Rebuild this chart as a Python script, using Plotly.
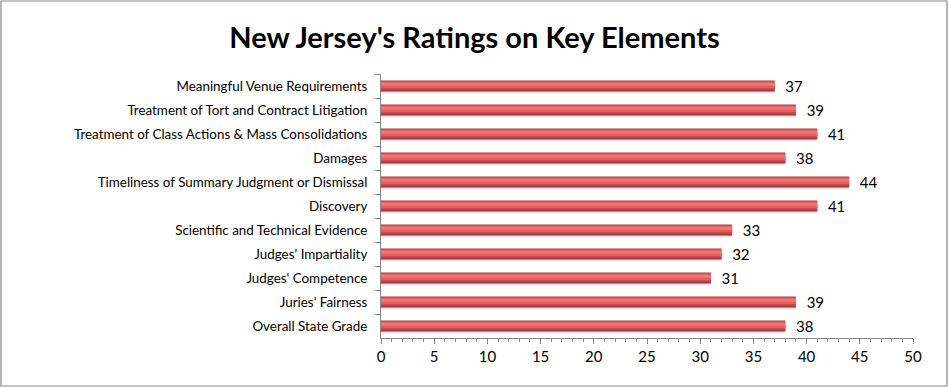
import plotly.graph_objects as go

categories = [
    "Meaningful Venue Requirements",
    "Treatment of Tort and Contract Litigation",
    "Treatment of Class Actions & Mass Consolidations",
    "Damages",
    "Timeliness of Summary Judgment or Dismissal",
    "Discovery",
    "Scientific and Technical Evidence",
    "Judges' Impartiality",
    "Judges' Competence",
    "Juries' Fairness",
    "Overall State Grade",
]
values = [37, 39, 41, 38, 44, 41, 33, 32, 31, 39, 38]
x_ticks = [0, 5, 10, 15, 20, 25, 30, 35, 40, 45, 50]

FONT = "Lato"
W, H = 949, 388
L, R, T, B = 381, 36, 74, 50
pw, ph = W - L - R, H - T - B

fig = go.Figure()
# soft shadow under the bars
fig.add_trace(go.Bar(y=categories, x=values, orientation="h", width=0.1, offset=0.2,
                     marker=dict(color="#dedede", line=dict(width=0)), hoverinfo="skip"))
# cylinder-like shading layers
fig.add_trace(go.Bar(y=categories, x=values, orientation="h", width=0.46, offset=-0.23,
                     marker=dict(color="#973a38", line=dict(width=0)),
                     text=["  " + str(v) for v in values], textposition="outside",
                     constraintext="none",
                     textfont=dict(family=FONT, size=15, color="#000"), cliponaxis=False,
                     hoverinfo="skip"))
fig.add_trace(go.Bar(y=categories, x=values, orientation="h", width=0.16, offset=0.02,
                     marker=dict(color="#b44746", line=dict(width=0)), hoverinfo="skip"))
fig.add_trace(go.Bar(y=categories, x=values, orientation="h", width=0.3, offset=-0.2,
                     marker=dict(color="#e45d5d", line=dict(width=0)), hoverinfo="skip"))
fig.add_trace(go.Bar(y=categories, x=values, orientation="h", width=0.12, offset=-0.13,
                     marker=dict(color="#f47878", line=dict(width=0)), hoverinfo="skip"))

fig.update_layout(
    width=W, height=H,
    margin=dict(l=L, r=R, t=T, b=B, autoexpand=False),
    barmode="overlay",
    showlegend=False,
    paper_bgcolor="white", plot_bgcolor="white",
    title=dict(text="<b>New Jersey's Ratings on Key Elements</b>", x=0.5, xref="container",
               xanchor="center", y=1 - 38 / H, yanchor="middle",
               font=dict(family=FONT, size=29, color="#000")),
    font=dict(family=FONT, size=14, color="#000"),
)

fig.update_xaxes(range=[0, 50], tickvals=x_ticks, ticks="outside", ticklen=5, tickcolor="#868686",
                 showline=True, linecolor="#868686", linewidth=1, showgrid=False, zeroline=False,
                 tickfont=dict(family=FONT, size=15),
                 minor=dict(dtick=1, ticks="outside", ticklen=3, tickcolor="#868686", showgrid=False))
fig.update_yaxes(autorange="reversed", ticks="outside", ticklen=5, tickcolor="#868686",
                 tickson="boundaries", showline=True, linecolor="#868686", linewidth=1,
                 showgrid=False, ticklabelstandoff=10, tickfont=dict(family=FONT, size=13.4))

fig.add_shape(type="rect", xref="paper", yref="paper",
              x0=(1 - L) / pw, x1=(W - 2 - L) / pw,
              y0=-(H - 2 - (T + ph)) / ph, y1=(T + ph - 1) / ph,
              line=dict(color="#868686", width=1.2), fillcolor="rgba(0,0,0,0)", layer="below")

fig.write_html("out.html", config={"displayModeBar": False},
               post_script="document.body.style.margin='0';")
